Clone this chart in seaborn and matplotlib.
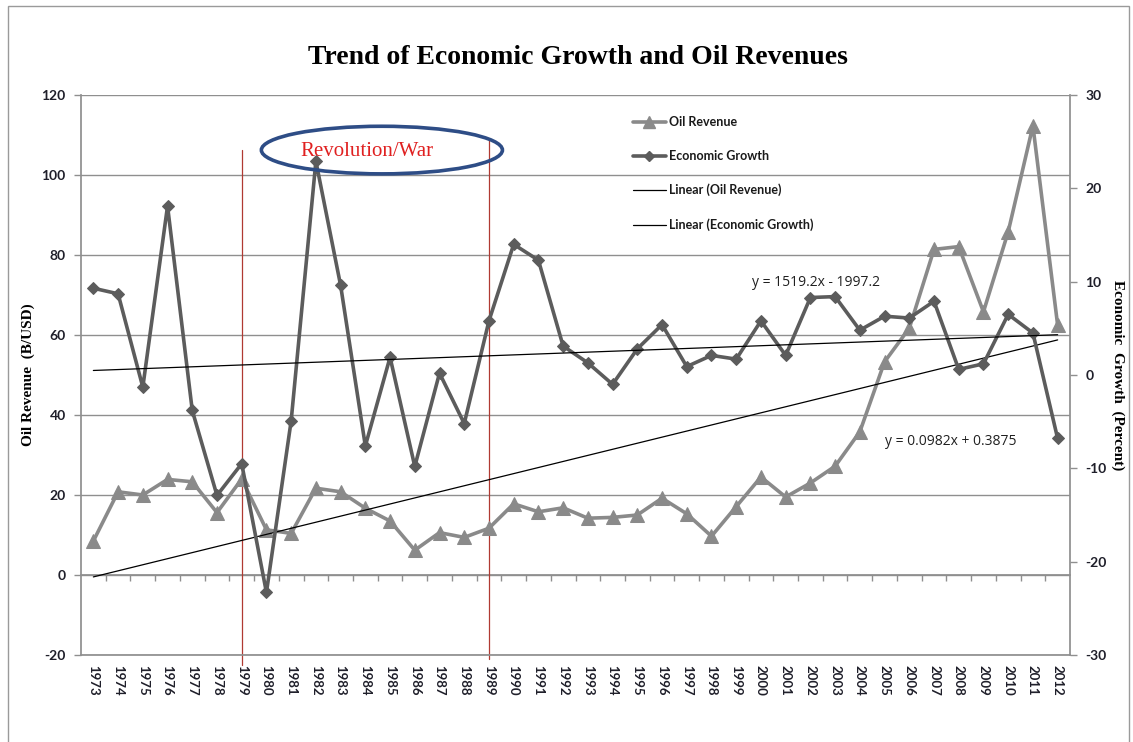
import matplotlib
matplotlib.use("Agg")
import matplotlib.pyplot as plt
from matplotlib.lines import Line2D
from matplotlib.patches import Ellipse, Rectangle
import numpy as np
import pandas as pd
import seaborn as sns

# ---- data -------------------------------------------------------------
years = list(range(1973, 2013))

# Oil revenue, billion USD (left axis)
oil_revenue = [8.5, 20.8, 20.0, 23.9, 23.3, 15.6, 24.0, 11.3, 10.4, 21.7,
               20.8, 16.7, 13.5, 6.2, 10.6, 9.4, 11.7, 17.8, 15.8, 16.8,
               14.2, 14.4, 15.0, 19.2, 15.3, 9.7, 17.1, 24.5, 19.5, 23.0,
               27.2, 35.8, 53.3, 61.7, 81.4, 82.1, 65.8, 85.8, 112.3, 62.5]

# Economic growth, percent (right axis)
economic_growth = [9.3, 8.7, -1.3, 18.1, -3.8, -12.9, -9.5, -23.3, -4.9, 22.9,
                   9.6, -7.6, 1.9, -9.8, 0.2, -5.2, 5.8, 14.0, 12.3, 3.1,
                   1.3, -1.0, 2.8, 5.4, 0.9, 2.1, 1.7, 5.8, 2.1, 8.3,
                   8.4, 4.8, 6.3, 6.1, 7.9, 0.6, 1.2, 6.5, 4.5, -6.8]

# Linear trend coefficients (x = 1..40); oil equation is in million USD
oil_trend_coef = [1519.2, -1997.2]
growth_trend_coef = [0.0982, 0.3875]

period_bounds = [1979, 1989]

left_ticks = [-20, 0, 20, 40, 60, 80, 100, 120]
right_ticks = [-30, -20, -10, 0, 10, 20, 30]

# ---- styling ----------------------------------------------------------
sns.set_theme(style="white")
plt.rcParams["font.family"] = ["Lato", "DejaVu Sans"]

OIL_COLOR = "#8a8a8a"
GROWTH_COLOR = "#5c5c5c"
GRID_COLOR = "#8f8f8f"
TEXT_COLOR = "#1f1f2a"
RED = "#b03a32"

df = pd.DataFrame({"year": years, "oil": oil_revenue, "growth": economic_growth})
idx = np.arange(1, len(years) + 1)
oil_fit = (oil_trend_coef[0] * idx + oil_trend_coef[1]) / 1000.0
growth_fit = growth_trend_coef[0] * idx + growth_trend_coef[1]

fig = plt.figure(figsize=(11.33, 7.42), dpi=100)
W, H = 1133, 742
ax = fig.add_axes([81 / W, 1 - 655 / H, (1070 - 81) / W, (655 - 95) / H])
ax2 = ax.twinx()

# outer chart border
fig.patches.append(Rectangle((8 / W, -0.05), (1129 - 8) / W, 1 - 6 / H + 0.05,
                             transform=fig.transFigure, fill=False,
                             edgecolor="#9a9a9a", linewidth=1.0))

# horizontal gridlines
for v in left_ticks:
    ax.axhline(v, color=GRID_COLOR, linewidth=1.0, zorder=0)

# oil revenue series and trend (left axis)
sns.lineplot(data=df, x="year", y="oil", ax=ax, color=OIL_COLOR, linewidth=2.6,
             marker="^", markersize=9.5, markeredgecolor=OIL_COLOR, zorder=3)
ax.plot(years, oil_fit, color="black", linewidth=0.9, zorder=4)

# economic growth series and trend (right axis)
sns.lineplot(data=df, x="year", y="growth", ax=ax2, color=GROWTH_COLOR, linewidth=2.6,
             marker="D", markersize=6.5, markeredgecolor=GROWTH_COLOR, zorder=3)
ax2.plot(years, growth_fit, color="black", linewidth=0.9, zorder=4)

ax.set_xlim(1972.5, 2012.5)
ax.set_ylim(-20, 120)
ax2.set_ylim(-30, 30)

# period markers and annotation
ax.plot([period_bounds[0]] * 2, [106.2, -22.5], color=RED, linewidth=0.9,
        clip_on=False, zorder=2)
ax.plot([period_bounds[1]] * 2, [108.8, -21.0], color=RED, linewidth=0.9,
        clip_on=False, zorder=2)
ax2.add_patch(Ellipse((1984.67, 24.1), 9.75, 5.1, fill=False, edgecolor="#2e4d86",
                      linewidth=2.6, clip_on=False, zorder=6))
ax2.text(1984.07, 24.0, "Revolution/War", color="#e02020", fontsize=15,
         family="Liberation Serif", ha="center", va="center", zorder=7)

# trend equations
ax2.text(1999.64, 9.86, "y = 1519.2x - 1997.2", fontsize=10, color="#202020",
         family="Open Sans", ha="left", va="center")
ax2.text(2005.0, -7.15, "y = 0.0982x + 0.3875", fontsize=10, color="#202020",
         family="Open Sans", ha="left", va="center")

# axes formatting
ax.set_xticks(years)
ax.set_xticklabels([str(y) for y in years], rotation=270, fontsize=9.5,
                   fontweight="bold", color=TEXT_COLOR)
ax.tick_params(axis="x", length=0, pad=7)
ax.set_yticks(left_ticks)
ax.set_yticklabels([str(v) for v in left_ticks], fontsize=10, fontweight="bold",
                   color=TEXT_COLOR)
ax.tick_params(axis="y", length=5, width=1, color=GRID_COLOR, pad=6, left=True)
ax2.set_yticks(right_ticks)
ax2.set_yticklabels([str(v) for v in right_ticks], fontsize=10, fontweight="bold",
                    color=TEXT_COLOR)
ax2.tick_params(axis="y", length=5, width=1, color=GRID_COLOR, pad=6, right=True)

for a in (ax, ax2):
    for side in ("top", "bottom", "left", "right"):
        a.spines[side].set_visible(False)
ax.spines["left"].set_visible(True)
ax.spines["left"].set_color(GRID_COLOR)
ax.spines["bottom"].set_visible(True)
ax.spines["bottom"].set_color(GRID_COLOR)
ax2.spines["right"].set_visible(True)
ax2.spines["right"].set_color(GRID_COLOR)

# category-boundary ticks on the zero line
zero_axis = ax.secondary_xaxis(20 / 140)
zero_axis.set_xticks(np.arange(1973.5, 2012.5, 1.0))
zero_axis.set_xticklabels([])
zero_axis.tick_params(length=4, width=1, color=GRID_COLOR)
zero_axis.spines["bottom"].set_color(GRID_COLOR)

ax.set_xlabel("")
ax.set_ylabel("Oil Revenue  (B/USD)", fontsize=11, fontweight="bold",
              family="Liberation Serif", color="black", labelpad=5)
ax2.set_ylabel("Economic  Growth  (Percent)", fontsize=11, fontweight="bold",
               family="Liberation Serif", color="black", rotation=270, labelpad=13)

fig.text(578 / W, 1 - 58 / H, "Trend of Economic Growth and Oil Revenues",
         fontsize=20, fontweight="bold", family="Liberation Serif",
         ha="center", va="center", color="black")

# legend
handles = [
    Line2D([], [], color=OIL_COLOR, linewidth=2.6, marker="^", markersize=8),
    Line2D([], [], color=GROWTH_COLOR, linewidth=2.6, marker="D", markersize=5),
    Line2D([], [], color="black", linewidth=0.9),
    Line2D([], [], color="black", linewidth=0.9),
]
labels = ["Oil Revenue", "Economic Growth", "Linear (Oil Revenue)",
          "Linear (Economic Growth)"]
leg = fig.legend(handles, labels, loc="upper left", bbox_to_anchor=(633 / W, 1 - 116 / H),
                 frameon=False, numpoints=1, handlelength=2.6, handletextpad=0.25,
                 labelspacing=1.75, borderpad=0, borderaxespad=0,
                 prop={"family": "Lato", "weight": "bold", "size": 9})
for t in leg.get_texts():
    t.set_color("#1a1a1a")

fig.savefig("out.png", dpi=100)
